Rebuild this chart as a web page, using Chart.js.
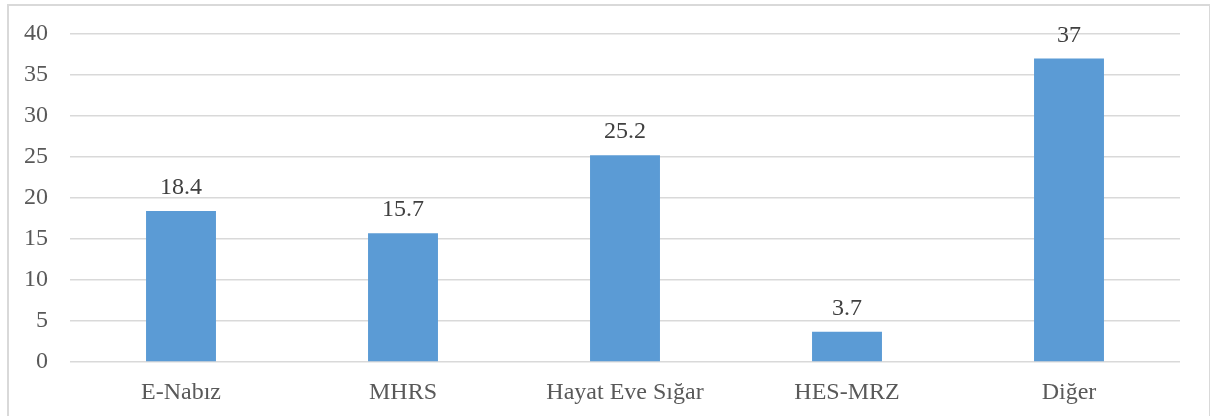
<!DOCTYPE html>
<html>
<head>
<meta charset="utf-8">
<script src="https://cdn.jsdelivr.net/npm/chart.js@4"></script>
<style>
  body { margin: 0; background: #fff; }
  #wrap { position: relative; width: 1210px; height: 416px; }
  #frame { position: absolute; left: 7px; top: 4px; width: 1200px; height: 420px; border: 2px solid #d9d9d9; }
  canvas { position: absolute; left: 0; top: 0; }
</style>
</head>
<body>
<div id="wrap">
  <div id="frame"></div>
  <canvas id="js--chart"></canvas>
</div>
<script>
const labels = ["E-Nabız", "MHRS", "Hayat Eve Sığar", "HES-MRZ", "Diğer"];
const values = [18.4, 15.7, 25.2, 3.7, 37];
const yTicks = [0, 5, 10, 15, 20, 25, 30, 35, 40];

const fontFam = "'Liberation Serif', 'Times New Roman', serif";

// numbers over the bars
const valueLabels = {
  id: "valueLabels",
  afterDatasetsDraw(chart) {
    const ctx = chart.ctx;
    const meta = chart.getDatasetMeta(0);
    ctx.save();
    ctx.font = "24px " + fontFam;
    ctx.fillStyle = "#404040";
    ctx.textAlign = "center";
    ctx.textBaseline = "alphabetic";
    meta.data.forEach(function(bar, i) {
      ctx.fillText(String(values[i]), bar.x, bar.y - 17);
    });
    ctx.restore();
  }
};

const config = {
  type: "bar",
  data: {
    labels: labels,
    datasets: [{
      label: "oran",
      data: values,
      backgroundColor: "#5b9bd5",
      barPercentage: 0.315,
      categoryPercentage: 1
    }]
  },
  options: {
    responsive: true,
    maintainAspectRatio: false,
    animation: false,
    layout: { padding: { top: 34, right: 30, bottom: 0, left: 0 } },
    plugins: { legend: { display: false }, tooltip: { enabled: false } },
    scales: {
      x: {
        grid: { display: false },
        border: { display: false },
        ticks: { color: "#595959", font: { family: fontFam, size: 24 }, padding: 8 },
        afterFit: function(s) { s.height = 54; }
      },
      y: {
        min: 0,
        max: 40,
        afterBuildTicks: function(s) { s.ticks = yTicks.map(v => ({ value: v })); },
        grid: { color: "#d9d9d9", lineWidth: 1.5, drawTicks: false },
        border: { display: false },
        ticks: { color: "#595959", font: { family: fontFam, size: 24 }, padding: 22 },
        afterFit: function(s) {
          s.width = 70;
          s.paddingTop = 0;
          s.paddingBottom = 0;
        }
      }
    }
  },
  plugins: [valueLabels]
};

const chart1 = new Chart(document.getElementById("js--chart"), config);
</script>
</body>
</html>
